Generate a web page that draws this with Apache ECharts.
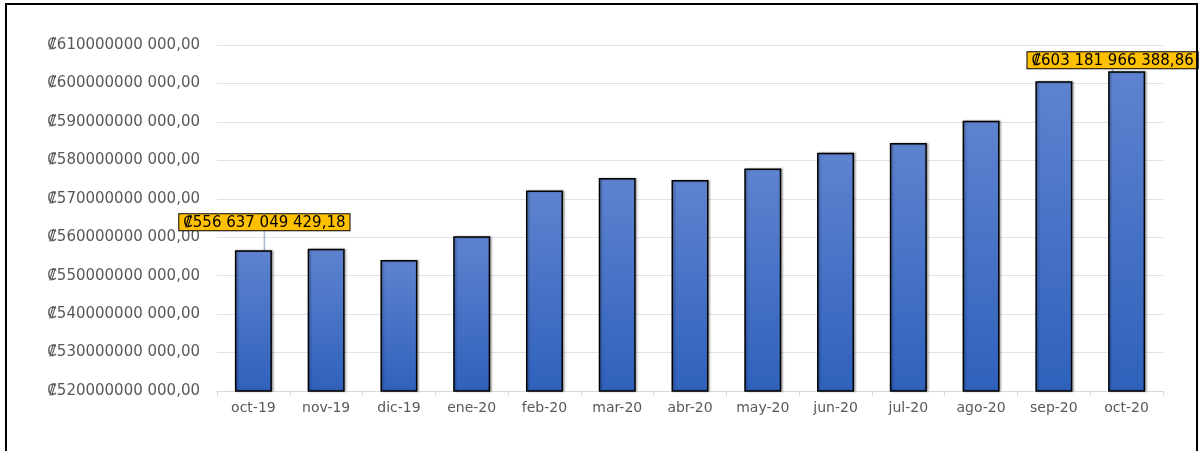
<!DOCTYPE html>
<html>
<head>
<meta charset="utf-8">
<script src="https://cdn.jsdelivr.net/npm/echarts@6/dist/echarts.min.js"></script>
<style>
html,body{margin:0;padding:0;background:#fff;}
#c{width:1200px;height:451px;}
</style>
</head>
<body>
<div id="c"></div>
<script>
const categories = ['oct-19','nov-19','dic-19','ene-20','feb-20','mar-20','abr-20','may-20','jun-20','jul-20','ago-20','sep-20','oct-20'];
const values = [556637049429.18, 556980000000, 554100000000, 560260000000, 572160000000, 575400000000, 574860000000, 577900000000, 582000000000, 584500000000, 590300000000, 600600000000, 603181966388.86];
const labelledIdx = [0, 12];
const yMin = 520000000000, yMax = 610000000000, yStep = 10000000000;

function tickFmt(v){
  const s = String(Math.round(v));
  return '₡' + s.slice(0, -3) + ' ' + s.slice(-3) + ',00';
}
function fullFmt(v){
  const p = v.toFixed(2).split('.');
  const g = p[0].replace(/\B(?=(\d{3})+(?!\d))/g, ' ');
  return '₡' + g + ',' + p[1];
}

const FONT = 'DejaVu Sans';
const data = values.map((v, i) => {
  const item = { value: v };
  if (labelledIdx.includes(i)) {
    item.label = { show: true };
  }
  return item;
});

const chart = echarts.init(document.getElementById('c'));
chart.setOption({
  animation: false,
  backgroundColor: '#fff',
  grid: { left: 217, right: 37, top: 45, bottom: 60 },
  xAxis: {
    type: 'category',
    data: categories,
    axisLine: { lineStyle: { color: '#d9d9d9', width: 1 } },
    axisTick: { show: true, length: 5, lineStyle: { color: '#d9d9d9' } },
    axisLabel: { color: '#595959', fontFamily: FONT, fontSize: 14, margin: 10 }
  },
  yAxis: {
    type: 'value',
    min: yMin, max: yMax, interval: yStep,
    axisLine: { show: false },
    axisTick: { show: false },
    splitLine: { lineStyle: { color: '#dfe2e8', width: 1 } },
    axisLabel: { color: '#595959', fontFamily: FONT, fontSize: 15, margin: 17, formatter: tickFmt }
  },
  graphic: [{
    type: 'rect', silent: true, z: 100,
    shape: { x: 6, y: 4, width: 1191, height: 520 },
    style: { fill: 'none', stroke: '#000', lineWidth: 2 }
  }],
  series: [{
    type: 'bar',
    data: data,
    barWidth: 37,
    itemStyle: {
      color: new echarts.graphic.LinearGradient(0, 0, 0, 1, [
        { offset: 0, color: '#5e83cf' },
        { offset: 1, color: '#2f61bc' }
      ]),
      borderColor: '#000', borderWidth: 1.5,
      shadowColor: 'rgba(0,0,0,0.3)', shadowBlur: 2, shadowOffsetX: 1.5, shadowOffsetY: 0
    },
    label: {
      show: false,
      position: 'top',
      distance: 5,
      formatter: p => fullFmt(p.value),
      color: '#000', fontFamily: FONT, fontSize: 15,
      backgroundColor: '#ffc000', borderColor: '#000', borderWidth: 1,
      padding: [1, 4, 0, 4]
    },
    labelLine: { show: true, lineStyle: { color: '#a9b8cc', width: 1.5 } },
    labelLayout: function (p) {
      if (p.dataIndex === 0) return { dx: 11, dy: -15 };
      if (p.dataIndex === 12) return { dx: -14, dy: 2 };
      return {};
    }
  }]
});
</script>
</body>
</html>
